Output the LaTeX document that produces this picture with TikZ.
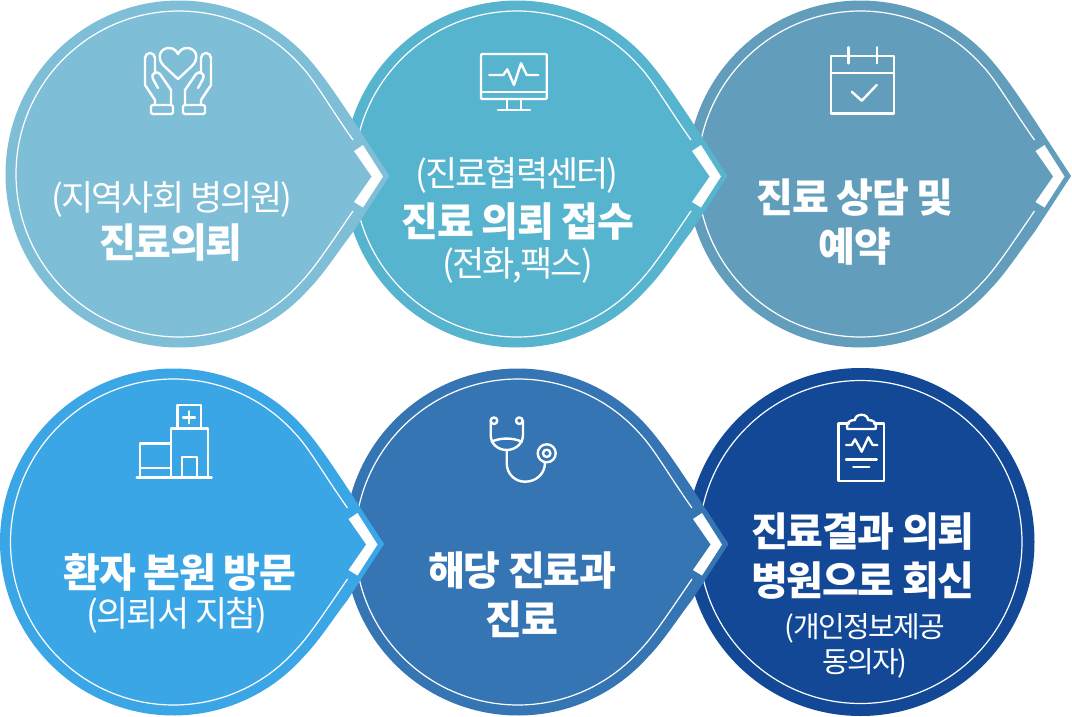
\documentclass[tikz,border=0pt]{standalone}
\usepackage{fontspec}
\newfontfamily\kr{Noto Sans CJK KR}
\newfontfamily\krtight[LetterSpace=-3.5]{Noto Sans CJK KR}
\newfontfamily\krthin[LetterSpace=-5.5]{Noto Sans CJK KR}
\definecolor{cA}{HTML}{7FBED7}
\definecolor{cB}{HTML}{57B4CF}
\definecolor{cC}{HTML}{629EBC}
\definecolor{cD}{HTML}{3BA6E6}
\definecolor{cE}{HTML}{3675B3}
\definecolor{cF}{HTML}{124896}
\tikzset{
  boldtxt/.style={text=white,inner sep=0pt,align=center,font=\krtight\bfseries\fontsize{40}{49}\selectfont},
  thintxt/.style={text=white,inner sep=0pt,align=center,font=\krthin\fontsize{35}{40}\selectfont},
  smalltxt/.style={text=white,inner sep=0pt,align=center,font=\krthin\fontsize{29}{35}\selectfont},
  icon/.style={draw=white,line width=2.4pt,line join=round,line cap=round},
  ring/.style={draw=white,line width=1.2pt}
}
\newcommand{\teardrop}[3]{%
  \begin{scope}[shift={(#1,#2)}]
    \fill[#3] (-42:173.5) arc[start angle=-42,end angle=-318,radius=173.5]
      .. controls (145,100) and (160,76) .. (174,58) -- (210.5,2) -- (174,-54)
      .. controls (160,-75) and (145,-98) .. cycle;
    \draw[ring] (174,-34) .. controls (150,-68) and (135,-95) .. (-42:163)
      arc[start angle=-42,end angle=-318,radius=163]
      .. controls (135,95) and (150,72) .. (174,37);
    \fill[white] (175,-23) -- (184,-29) -- (204,2.5) -- (184,33.5) -- (175,28) -- (192.7,2.5) -- cycle;
  \end{scope}}
\begin{document}
\begin{tikzpicture}[x=1pt,y=-1pt]
\useasboundingbox (0,0) rectangle (1072,716);
% row 1, right to left so that tips overlap
\teardrop{860.5}{174}{cC}
\teardrop{517}{174}{cB}
\teardrop{179}{174}{cA}
% row 2
\fill[cF] (860.5,542) circle[radius=174];
\draw[ring] (860.5,542) circle[radius=161.5];
\teardrop{518}{542}{cE}
\teardrop{173.5}{542}{cD}
% texts
\node[thintxt] (t1a) at (172,199) {(지역사회 병의원)};
\node[boldtxt] (t1b) at (171,243) {진료의뢰};
\node[thintxt] (t2a) at (517,175) {(진료협력센터)};
\node[boldtxt] (t2b) at (518,222) {진료 의뢰 접수};
\node[thintxt] (t2c) at (517.5,265) {(전화,팩스)};
\node[boldtxt] (t3) at (855,222) {진료 상담 및\\예약};
\node[boldtxt] (t4a) at (180,572) {환자 본원 방문};
\node[thintxt] (t4b) at (177,615) {(의뢰서 지참)};
\node[boldtxt] (t5) at (522,595) {해당 진료과\\진료};
\node[boldtxt] (t6a) at (863,556) {진료결과 의뢰\\병원으로 회신};
\node[smalltxt] (t6b) at (865,646) {(개인정보제공\\동의자)};
% hands and heart
\draw[icon] (178,79) -- (164,66) .. controls (156,58) and (160,48) .. (169,48) .. controls (173,48) and (176,50) .. (178,54)
  .. controls (180,50) and (183,48) .. (187,48) .. controls (196,48) and (200,58) .. (192,66) -- cycle;
\foreach \s in {1,-1}{
  \begin{scope}[shift={(178,0)},xscale=\s]
    \draw[icon] (-23,105) -- (-23,100) -- (-33,85) -- (-33,58) arc[start angle=180,end angle=360,radius=5] -- (-23,72);
    \draw[icon] (-7,105) -- (-7,90) -- (-18,74) .. controls (-21,70) and (-28,74) .. (-25,79) -- (-20,88);
    \draw[icon,rounded corners=1.5pt] (-27,105) rectangle (-5,114);
  \end{scope}}
% monitor
\draw[icon,rounded corners=1pt] (481,54) rectangle (546.7,99);
\draw[icon] (481,91.7) -- (546.7,91.7);
\draw[icon] (506.7,99) -- (506.7,110) (521,99) -- (521,110) (498,110) -- (530,110);
\draw[icon] (489.3,75) -- (503.3,75) -- (507.3,69.3) -- (514,85) -- (521,63.3) -- (526.7,75) -- (538.3,75);
% calendar
\draw[icon] (830.7,56) rectangle (894,113.3);
\draw[icon] (830.7,72.7) -- (894,72.7);
\draw[icon] (848.3,47.3) -- (848.3,63.3) (876.7,47.3) -- (876.7,63.3);
\draw[icon] (851.7,91.7) -- (861.7,100.7) -- (876.7,85);
% hospital
\draw[icon] (136.7,477.3) -- (211.7,477.3);
\draw[icon] (170.7,477.3) -- (170.7,428.3) -- (208,428.3) -- (208,477.3);
\draw[icon] (177.3,428.3) -- (177.3,405) -- (201,405) -- (201,428.3);
\draw[icon] (183,417.3) -- (195,417.3) (189,411.3) -- (189,423.3);
\draw[icon] (140,477.3) -- (140,443.3) -- (170.7,443.3);
\draw[icon] (140,467.7) -- (170.7,467.7);
\draw[icon] (182,477.3) -- (182,456.7) -- (197,456.7) -- (197,477.3);
% stethoscope
\draw[icon] (494,420.7) circle[radius=3.3] (519.3,420.7) circle[radius=3.3];
\draw[icon] (490.7,420.7) -- (490.7,435) .. controls (490.7,444) and (498,450) .. (506.7,450)
  .. controls (515,450) and (523,444) .. (523,435) -- (523,420.7);
\draw[icon] (491.7,441.7) .. controls (500,437.5) and (513,437.5) .. (521.7,441.7);
\draw[icon] (506.7,450) -- (506.7,463) .. controls (506.7,474) and (515,481.7) .. (525,481.7)
  .. controls (536,481.7) and (545,474) .. (545,462.6);
\draw[icon] (546.7,453.3) circle[radius=9] (546.7,453.3) circle[radius=3.7];
% clipboard
\draw[icon] (849,423.3) -- (838.3,423.3) -- (838.3,481) -- (884,481) -- (884,423.3) -- (874,423.3);
\draw[icon] (847.3,429) .. controls (846,422) and (850,420) .. (855,420) .. controls (855,413) and (868,413) .. (868,420)
  .. controls (873,420) and (877,422) .. (875.5,429) -- cycle;
\draw[icon] (846,445) -- (851.7,445) -- (855,439.3) -- (861.7,451.7) -- (868.3,437.3) -- (872.7,445) -- (877.3,445);
\draw[icon] (846,459.3) -- (876.7,459.3) (853.3,466.7) -- (869.3,466.7);
\end{tikzpicture}
\end{document}
